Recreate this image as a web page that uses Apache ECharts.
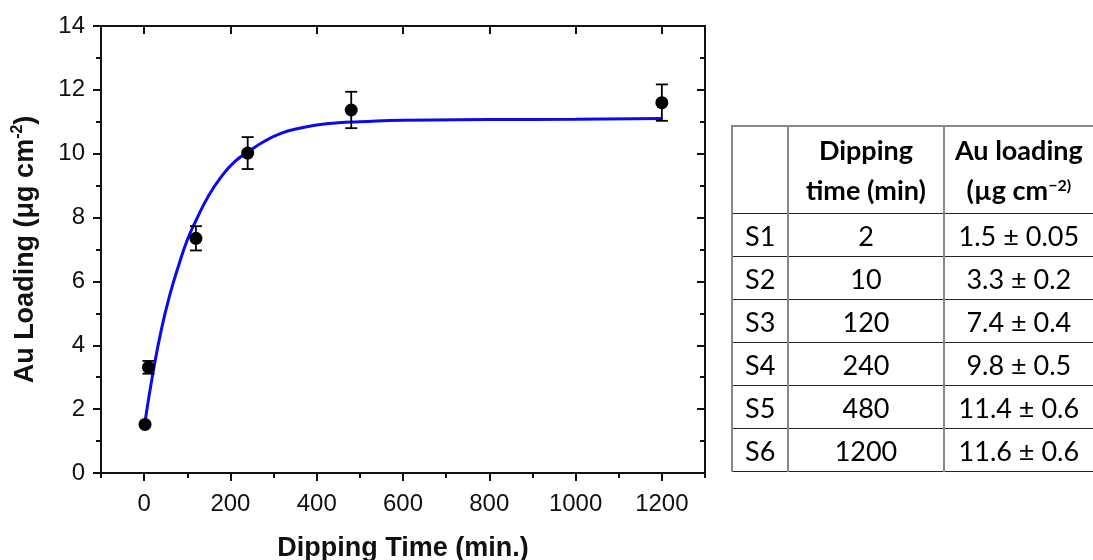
<!DOCTYPE html>
<html>
<head>
<meta charset="utf-8">
<script src="https://cdn.jsdelivr.net/npm/echarts@6/dist/echarts.min.js"></script>
<style>
  html, body { margin: 0; padding: 0; background: #fff; }
  #chart { position: absolute; left: 0; top: 0; width: 1093px; height: 560px; }
  #tbl {
    position: absolute; left: 731px; top: 125px;
    border-collapse: collapse; font-family: Lato, sans-serif; font-size: 27px; color: #000;
  }
  #tbl td { padding: 0; height: 42px; text-align: center; border: 1.5px solid #222; }
  #tbl td.c1 { width: 57px; text-align: left; padding-left: 12px; box-sizing: border-box; }
  #tbl td.c2 { width: 157px; }
  #tbl td.c3 { width: 152px; border-right: none; }
  #tbl tr.head td { height: 86px; font-weight: bold; line-height: 40px; }
  #tbl td.c1, #tbl td.c2 { border-right: 2px solid #888; }
  #tbl td.c1 { border-left: 2px solid #888; }
  #tbl tr.head td { border-top: 2px solid #888; }
  #tbl sup { font-size: 16px; vertical-align: 9px; line-height: 0; }
</style>
</head>
<body>
<div id="chart"></div>
<table id="tbl"></table>
<script>
const times = [2, 10, 120, 240, 480, 1200]
const loading = [1.52, 3.31, 7.35, 10.02, 11.37, 11.6]
const errors = [0.05, 0.2, 0.38, 0.5, 0.57, 0.57]

// blue fit curve
const fitTimes = [2, 20, 40, 60, 80, 100, 120, 150, 180, 210, 240, 280, 320, 360, 400, 450, 500, 600, 800, 1000, 1200]
const fitLoading = [1.6, 3.1, 4.5, 5.6, 6.5, 7.3, 7.9, 8.7, 9.3, 9.75, 10.05, 10.4, 10.65, 10.8, 10.9, 10.97, 11.0, 11.05, 11.07, 11.08, 11.1]

// axis ticks
const xMajorTicks = [0, 200, 400, 600, 800, 1000, 1200]

// table contents
const sampleNames = ['S1', 'S2', 'S3', 'S4', 'S5', 'S6']
const tableTimes = ['2', '10', '120', '240', '480', '1200']
const tableLoading = ['1.5 ± 0.05', '3.3 ± 0.2', '7.4 ± 0.4', '9.8 ± 0.5', '11.4 ± 0.6', '11.6 ± 0.6']

const font = 'Liberation Sans, Arial, sans-serif'

function buildTable() {
  const t = document.getElementById('tbl')
  let html = '<tr class="head"><td class="c1"></td><td class="c2">Dipping<br>time (min)</td>' +
    '<td class="c3">Au loading<br>(µg cm<sup>−2)</sup></td></tr>'
  sampleNames.forEach((s, i) => {
    html += '<tr><td class="c1">' + s + '</td><td class="c2">' + tableTimes[i] +
      '</td><td class="c3">' + tableLoading[i] + '</td></tr>'
  })
  t.innerHTML = html
}
buildTable()

const baseX = {
  type: 'value', min: -100, max: 1300,
  splitLine: { show: false },
  axisLine: { show: true, onZero: false, lineStyle: { color: '#111', width: 2 } }
}

function xAxisMajor(position, inside, labels) {
  return Object.assign({}, baseX, {
    position,
    axisTick: { show: true, inside, length: 8, customValues: xMajorTicks, lineStyle: { color: '#111', width: 2 } },
    axisLabel: labels
      ? { show: true, customValues: xMajorTicks, color: '#111', fontSize: 24, fontFamily: font, margin: 19,
          formatter: v => String(v) }
      : { show: false }
  })
}

function xAxisMinor(position, inside) {
  return Object.assign({}, baseX, {
    position, interval: 100,
    axisLine: { show: false },
    axisTick: { show: true, inside, length: 5, lineStyle: { color: '#111', width: 2 } },
    axisLabel: { show: false }
  })
}

function yAxisDef(position, inside, labels) {
  return {
    type: 'value', min: 0, max: 14, interval: 2, position,
    splitLine: { show: false },
    axisLine: { show: true, onZero: false, lineStyle: { color: '#111', width: 2 } },
    axisTick: { show: true, inside, length: 8, lineStyle: { color: '#111', width: 2 } },
    minorTick: { show: true, splitNumber: 2, length: 5, lineStyle: { color: '#111', width: 2 } },
    axisLabel: labels
      ? { show: true, color: '#111', fontSize: 24, fontFamily: font, margin: 16, formatter: v => String(v) }
      : { show: false }
  }
}

const chart = echarts.init(document.getElementById('chart'))

const xMain = xAxisMajor('bottom', false, true)
xMain.name = 'Dipping Time (min.)'
xMain.nameLocation = 'middle'
xMain.nameGap = 62
xMain.nameTextStyle = { color: '#111', fontSize: 27, fontWeight: 'bold', fontFamily: font }

const yMain = yAxisDef('left', false, true)
yMain.name = 'Au Loading (μg cm{sup|-2})'
yMain.nameLocation = 'middle'
yMain.nameRotate = 90
yMain.nameGap = 59
yMain.nameTextStyle = {
  color: '#111', fontSize: 27, fontWeight: 'bold', fontFamily: font,
  rich: { sup: { fontSize: 16, fontWeight: 'bold', fontFamily: font, color: '#111', padding: [0, 0, 16, 0] } }
}

chart.setOption({
  animation: false,
  grid: { left: 101, top: 26, right: 388, bottom: 87, outerBoundsMode: 'none', containLabel: false },
  xAxis: [xMain, xAxisMinor('bottom', false), xAxisMajor('top', true, false), xAxisMinor('top', true)],
  yAxis: [yMain, yAxisDef('right', true, false)],
  series: [
    {
      type: 'line', xAxisIndex: 0, yAxisIndex: 0,
      data: fitTimes.map((t, i) => [t, fitLoading[i]]),
      smooth: true, showSymbol: false,
      lineStyle: { color: '#0a0aee', width: 3 }, z: 2
    },
    {
      type: 'custom', xAxisIndex: 0, yAxisIndex: 0,
      data: times.map((t, i) => [t, loading[i] - errors[i], loading[i] + errors[i]]),
      renderItem(params, api) {
        const lo = api.coord([api.value(0), api.value(1)])
        const hi = api.coord([api.value(0), api.value(2)])
        const w = 6
        const st = { stroke: '#000', lineWidth: 1.8 }
        return {
          type: 'group',
          children: [
            { type: 'line', shape: { x1: lo[0], y1: lo[1], x2: hi[0], y2: hi[1] }, style: st },
            { type: 'line', shape: { x1: lo[0] - w, y1: lo[1], x2: lo[0] + w, y2: lo[1] }, style: st },
            { type: 'line', shape: { x1: hi[0] - w, y1: hi[1], x2: hi[0] + w, y2: hi[1] }, style: st }
          ]
        }
      },
      z: 3
    },
    {
      type: 'scatter', xAxisIndex: 0, yAxisIndex: 0,
      data: times.map((t, i) => [t, loading[i]]),
      symbol: 'circle', symbolSize: 13,
      itemStyle: { color: '#000', opacity: 1 }, z: 4
    }
  ]
})
</script>
</body>
</html>
